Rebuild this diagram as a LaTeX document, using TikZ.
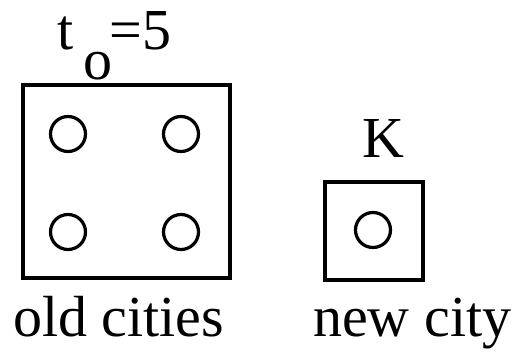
\documentclass[tikz,border=0pt]{standalone}
\usepackage{fontspec}
\setmainfont{Liberation Serif}
\tikzset{
  box/.style={draw, line width=3.8pt, inner sep=0pt},
  city/.style={draw, circle, line width=3.2pt, minimum size=35pt, inner sep=0pt},
  lbl/.style={inner sep=0pt, anchor=base west, font=\fontsize{58}{60}\selectfont}
}
\begin{document}
\begin{tikzpicture}[x=1pt,y=-1pt]
\useasboundingbox (0,0) rectangle (514,352);
\draw[line width=3.8pt] (23,85) rectangle (230,278);
\node[city] (c1) at (68,134) {};
\node[city] (c2) at (181,134) {};
\node[city] (c3) at (68,232) {};
\node[city] (c4) at (181,232) {};
\draw[line width=3.8pt] (325,182) rectangle (423,280);
\node[city] (c5) at (373,230) {};
\node[lbl] (t0) at (57,50) {t\hspace{10pt}\raisebox{-30pt}{o}\hspace{-3pt}=5};
\node[lbl] (K) at (362,158) {K};
\node[lbl] (old) at (13,337) {old cities};
\node[lbl] (new) at (313,337) {new city};
\end{tikzpicture}
\end{document}
